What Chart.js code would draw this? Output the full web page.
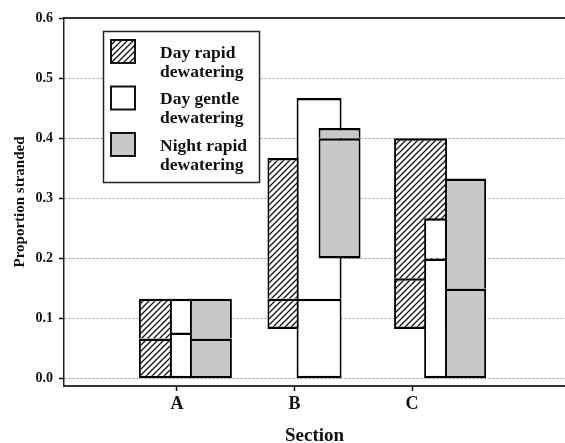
<!DOCTYPE html>
<html>
<head>
<meta charset="utf-8">
<script src="https://cdn.jsdelivr.net/npm/chart.js@4"></script>
<style>
  html, body { margin: 0; padding: 0; background: #fff; }
  canvas { display: block; }
</style>
</head>
<body>
<canvas id="stranding" width="565" height="443"></canvas>
<script>
// Datos: proporción de peces varados por sección (mínimo, mediana, máximo)
const sections = ['A', 'B', 'C'];
const seriesNames = [['Day rapid', 'dewatering'], ['Day gentle', 'dewatering'], ['Night rapid', 'dewatering']];

const dayRapidLow = [0, 0.083, 0.083];
const dayRapidMedian = [0.067, 0.133, 0.167];
const dayRapidHigh = [0.133, 0.367, 0.4];

const dayGentleLow = [0, 0, 0];
const dayGentleMedian = [0.077, 0.133, 0.2];
const dayGentleHigh = [0.133, 0.467, 0.267];

const nightRapidLow = [0, 0.2, 0];
const nightRapidMedian = [0.067, 0.4, 0.15];
const nightRapidHigh = [0.133, 0.417, 0.333];

const yTicks = [0, 0.1, 0.2, 0.3, 0.4, 0.5, 0.6];

// Maquetación: desplazamiento de cada barra respecto a su sección (unidades x) y ancho (px)
const barOffsets = [[-0.183, -0.094, 0.072], [0.034, 0.209, 0.2], [0.289, 0.383, 0.455]];
const barWidths = [[33, 32, 53], [22, 45, 23], [42, 42, 41]];

// Trama rayada para "Day rapid"
function makeHatch() {
    const c = document.createElement('canvas');
    c.width = 6; c.height = 6;
    const g = c.getContext('2d');
    g.fillStyle = '#fff';
    g.fillRect(0, 0, 6, 6);
    g.strokeStyle = '#111';
    g.lineWidth = 1.3;
    g.beginPath();
    g.moveTo(-1, 7); g.lineTo(7, -1);
    g.moveTo(-4, 4); g.lineTo(4, -4);
    g.moveTo(2, 10); g.lineTo(10, 2);
    g.stroke();
    return g.createPattern(c, 'repeat');
}

const seriesFills = [makeHatch(), '#ffffff', '#c8c8c8'];
const series = [
    { low: dayRapidLow, med: dayRapidMedian, high: dayRapidHigh },
    { low: dayGentleLow, med: dayGentleMedian, high: dayGentleHigh },
    { low: nightRapidLow, med: nightRapidMedian, high: nightRapidHigh }
];

// Cada barra = dos rectángulos: mediana-máx (primero) y mín-mediana (encima);
// el borde superior del rectángulo inferior dibuja la línea de la mediana
const datasets = [];
series.forEach(function(s, si) {
    sections.forEach(function(sec, i) {
        const x = i + 1 + barOffsets[si][i];
        datasets.push({
            label: seriesNames[si].join(' '),
            data: [{ x: x, y: [s.med[i], s.high[i]] }, { x: x, y: [s.low[i], s.med[i]] }],
            backgroundColor: seriesFills[si],
            borderColor: '#000',
            borderWidth: function(ctx) {
                return ctx.dataIndex === 0
                    ? { top: 2.5, left: 2, right: 2, bottom: 0 }
                    : { top: 2.5, left: 2, right: 2, bottom: 2.5 };
            },
            borderSkipped: false,
            inflateAmount: 0,
            barThickness: barWidths[si][i],
            grouped: false,
            order: 3 - si
        });
    });
});

const serif = '"Liberation Serif", "Times New Roman", serif';

// Leyenda dentro del área del gráfico
const legendBox = {
    id: 'legendBox',
    afterDatasetsDraw(chart) {
        const ctx = chart.ctx;
        ctx.save();
        ctx.fillStyle = '#fff';
        ctx.fillRect(103, 31, 156, 151);
        ctx.strokeStyle = '#222';
        ctx.lineWidth = 1.5;
        ctx.strokeRect(103.5, 31.5, 156, 151);
        seriesNames.forEach(function(lines, si) {
            const top = 39 + si * 46.5;
            ctx.fillStyle = seriesFills[si];
            ctx.fillRect(110, top, 26, 25);
            ctx.lineWidth = 2;
            ctx.strokeStyle = '#111';
            ctx.strokeRect(111, top + 1, 24, 23);
            ctx.fillStyle = '#111';
            ctx.font = 'bold 17.5px ' + serif;
            ctx.textBaseline = 'middle';
            ctx.textAlign = 'left';
            lines.forEach(function(t, li) { ctx.fillText(t, 160, top + 14 + li * 19); });
        });
        ctx.restore();
    }
};

new Chart(document.getElementById('stranding'), {
    type: 'bar',
    data: { datasets: datasets },
    plugins: [legendBox],
    options: {
        responsive: false,
        animation: false,
        devicePixelRatio: 1,
        layout: { padding: { top: 18, right: 0, bottom: 0, left: 0 } },
        plugins: {
            legend: { display: false },
            tooltip: { enabled: false }
        },
        scales: {
            x: {
                type: 'linear',
                offset: false,
                min: 0.04,
                max: 4.3,
                afterBuildTicks: function(scale) { scale.ticks = sections.map(function(n, i) { return { value: i + 1 }; }); },
                afterFit: function(scale) { scale.height = 57; },
                ticks: {
                    callback: function(v) { return sections[v - 1]; },
                    font: { family: serif, size: 18, weight: 'bold' },
                    color: '#111',
                    padding: 3,
                    maxRotation: 0,
                    autoSkip: false
                },
                grid: { offset: false, drawOnChartArea: false, drawTicks: true, tickLength: 5, tickColor: '#111', tickWidth: 1.5 },
                border: { color: '#333', width: 2 },
                title: {
                    display: true,
                    text: 'Section',
                    font: { family: serif, size: 19, weight: 'bold', lineHeight: 1 },
                    color: '#111',
                    padding: { top: 0, bottom: -3 }
                }
            },
            xTop: {
                type: 'linear',
                position: 'top',
                offset: false,
                min: 0.04,
                max: 4.3,
                afterFit: function(scale) { scale.height = 0; },
                ticks: { display: false },
                grid: { display: false, drawTicks: false },
                border: { display: true, color: '#333', width: 2 }
            },
            y: {
                min: -0.012,
                max: 0.6,
                afterBuildTicks: function(scale) { scale.ticks = yTicks.map(function(v) { return { value: v }; }); },
                afterFit: function(scale) { scale.width = 64; },
                ticks: {
                    callback: function(v) { return v.toFixed(1); },
                    font: { family: serif, size: 14, weight: 'bold' },
                    color: '#111',
                    padding: 6
                },
                grid: { color: '#9a9a9a', lineWidth: 1, tickLength: 5, tickColor: '#111', tickWidth: 1.5, tickBorderDash: [] },
                border: { color: '#222', width: 1.5, dash: [2, 2] },
                title: {
                    display: true,
                    text: 'Proportion stranded',
                    font: { family: serif, size: 15, weight: 'bold' },
                    color: '#111',
                    padding: { top: 11, bottom: 0 }
                }
            }
        }
    }
});
</script>
</body>
</html>
